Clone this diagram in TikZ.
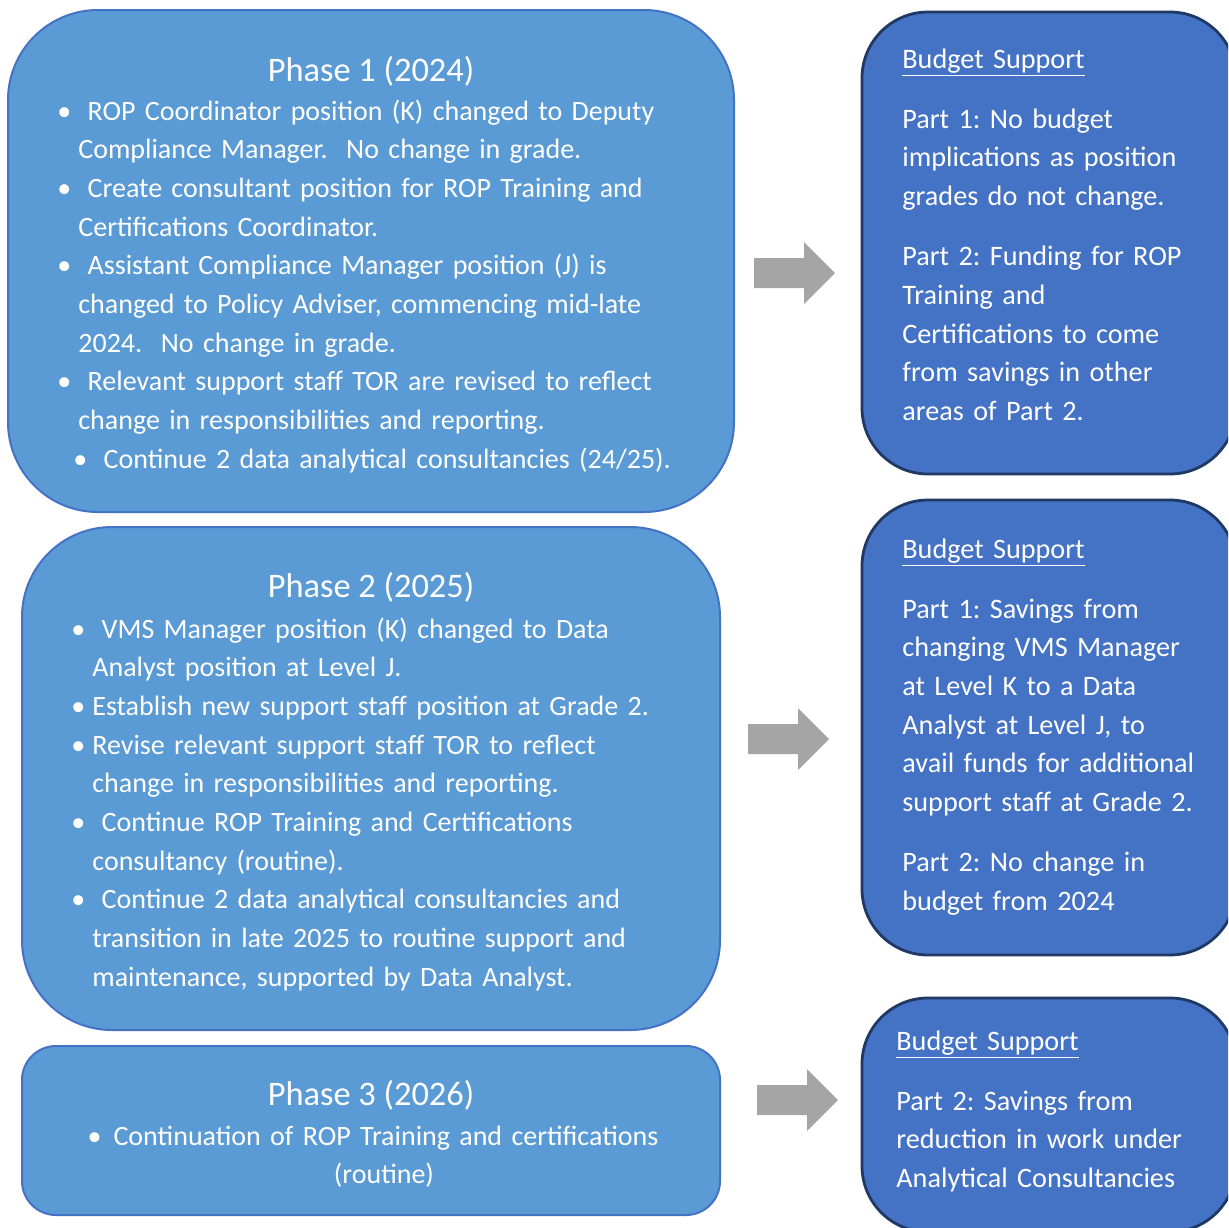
\documentclass[tikz,border=0pt]{standalone}
\usepackage{fontspec}
\setmainfont{Carlito}
\usepackage{tikz}
\usetikzlibrary{positioning}
\usepackage{xcolor}

\definecolor{phasefill}{HTML}{5B9BD5}
\definecolor{phaseedge}{HTML}{4472C4}
\definecolor{budgetfill}{HTML}{4472C4}
\definecolor{budgetedge}{HTML}{1F3864}
\definecolor{arrowgray}{HTML}{A5A5A5}

\newcommand{\bitem}[1]{\hangindent=10.5pt\hangafter=1\noindent\makebox[10.5pt][l]{\textbullet}#1\par}

\tikzset{
	phasebox/.style={draw=phaseedge, fill=phasefill, line width=1pt, rounded corners=45pt},
	budgetbox/.style={draw=budgetedge, fill=budgetfill, line width=1.4pt, rounded corners=33pt},
	phasetitle/.style={text=white, font=\fontsize{17.2}{20}\selectfont, anchor=base, inner sep=0pt},
	phasetext/.style={text=white, font=\fontsize{14}{19.35}\selectfont\frenchspacing, anchor=base west, inner sep=0pt, text width=340pt, align=left},
	budgettext/.style={text=white, font=\fontsize{14.1}{19.35}\selectfont\frenchspacing, anchor=base west, inner sep=0pt, text width=180pt, align=left}
}

\begin{document}
\begin{tikzpicture}[x=0.5pt,y=-0.5pt]
	\useasboundingbox (0,0) rectangle (1228,1228);
	\clip (0,0) rectangle (1228,1228);
	% phase boxes
	\node [phasebox, minimum width=363pt, minimum height=251pt] (phase1) at (371,261) {};
	\node [phasebox, minimum width=349pt, minimum height=251.5pt] (phase2) at (371,778.5) {};
	\node [phasebox, rounded corners=17pt, minimum width=349pt, minimum height=84.5pt] (phase3) at (371,1130.5) {};
	% budget boxes
	\node [budgetbox, minimum width=187pt, minimum height=231pt] (budget1) at (1049,243) {};
	\node [budgetbox, minimum width=187pt, minimum height=227.5pt] (budget2) at (1049,727.5) {};
	\node [budgetbox, minimum width=187pt, minimum height=117pt] (budget3) at (1049,1115) {};
	% arrows
	\foreach \ax/\ay in {754/273, 748/739, 757/1100}
	{
		\fill[arrowgray] (\ax,\ay-15) -- (\ax+50,\ay-15) -- (\ax+50,\ay-31) -- (\ax+81,\ay)
			-- (\ax+50,\ay+31) -- (\ax+50,\ay+15) -- (\ax,\ay+15) -- cycle;
	}
	% phase texts
	\node [phasetitle] (title1) at (371,81) {Phase 1 (2024)};
	\node [phasetext] (text1) at (57,120) {%
		\bitem{\ ROP Coordinator position (K) changed to Deputy\newline Compliance Manager.\ \ No change in grade.}%
		\bitem{\ Create consultant position for ROP Training and\newline Certifications Coordinator.}%
		\bitem{\ Assistant Compliance Manager position (J) is\newline changed to Policy Adviser, commencing mid-late\newline 2024.\ \ No change in grade.}%
		\bitem{\ Relevant support staff TOR are revised to reflect\newline change in responsibilities and reporting.}%
		\noindent\hspace*{8pt}\makebox[10.5pt][l]{\textbullet}\ Continue 2 data analytical consultancies (24/25).};
	\node [phasetitle] (title2) at (371,597) {Phase 2 (2025)};
	\node [phasetext] (text2) at (71,638) {%
		\bitem{\ VMS Manager position (K) changed to Data\newline Analyst position at Level J.}%
		\bitem{Establish new support staff position at Grade 2.}%
		\bitem{Revise relevant support staff TOR to reflect\newline change in responsibilities and reporting.}%
		\bitem{\ Continue ROP Training and Certifications\newline consultancy (routine).}%
		\bitem{\ Continue 2 data analytical consultancies and\newline transition in late 2025 to routine support and\newline maintenance, supported by Data Analyst.}};
	\node [phasetitle] (title3) at (371,1105) {Phase 3 (2026)};
	\node [phasetext, anchor=base, align=center] (text3) at (373,1145) {%
		\makebox[13pt][l]{\textbullet}Continuation of ROP Training and certifications\\\hspace*{11pt}(routine)};
	% budget texts
	\node [budgettext] (btext1) at (902,68) {%
		\setlength{\parskip}{10.7pt}\underline{Budget Support}\par
		Part 1: No budget\newline implications as position\newline grades do not change.\par
		Part 2: Funding for ROP\newline Training and\newline Certifications to come\newline from savings in other\newline areas of Part 2.};
	\node [budgettext] (btext2) at (902,558) {%
		\setlength{\parskip}{10.7pt}\underline{Budget Support}\par
		Part 1: Savings from\newline changing VMS Manager\newline at Level K to a Data\newline Analyst at Level J, to\newline avail funds for additional\newline support staff at Grade 2.\par
		Part 2: No change in\newline budget from 2024};
	\node [budgettext] (btext3) at (896,1050) {%
		\setlength{\parskip}{10.7pt}\underline{Budget Support}\par
		Part 2: Savings from\newline reduction in work under\newline Analytical Consultancies};
\end{tikzpicture}
\end{document}
